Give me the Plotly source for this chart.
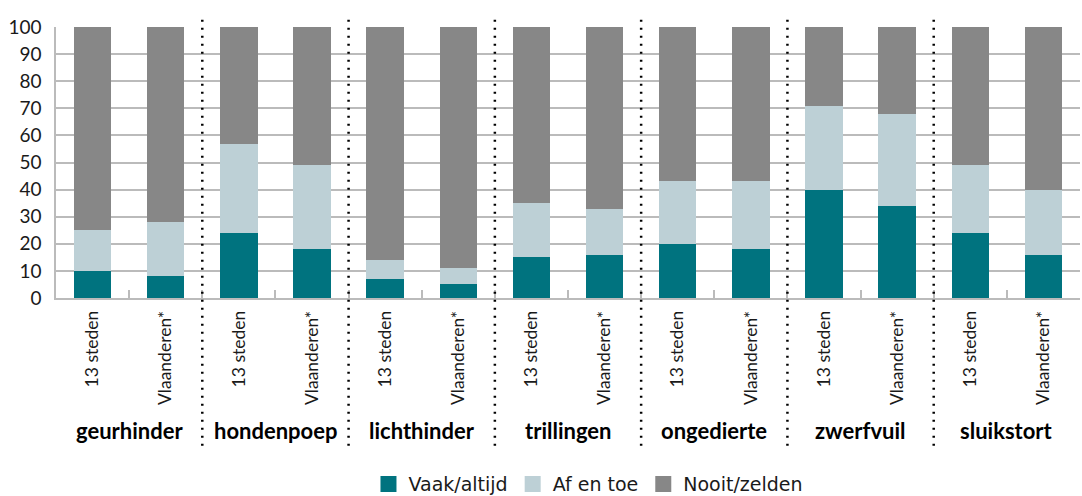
import plotly.graph_objects as go

groups = ["geurhinder", "hondenpoep", "lichthinder", "trillingen", "ongedierte", "zwerfvuil", "sluikstort"]
sub_labels = ["13 steden", "Vlaanderen*"]
vaak = [10, 8, 24, 18, 7, 5, 15, 16, 20, 18, 40, 34, 24, 16]
af_en_toe = [15, 20, 33, 31, 7, 6, 20, 17, 23, 25, 31, 34, 25, 24]
nooit = [75, 72, 43, 51, 86, 89, 65, 67, 57, 57, 29, 32, 51, 60]
series_names = ["Vaak/altijd", "Af en toe", "Nooit/zelden"]
colors = ["#00737F", "#BDD0D6", "#878787"]
y_ticks = list(range(0, 101, 10))

n = len(vaak)
xs = list(range(n))
ticktext = [sub_labels[i % 2] for i in xs]

fig = go.Figure()
for name, vals, col in zip(series_names, [vaak, af_en_toe, nooit], colors):
    fig.add_trace(go.Bar(x=xs, y=vals, name=name, marker=dict(color=col, line=dict(width=0)),
                         width=0.51, hoverinfo="skip", showlegend=False))
# legend proxies with larger square symbols
for name, col in zip(series_names, colors):
    fig.add_trace(go.Scatter(x=[None], y=[None], mode="markers", name=name,
                             marker=dict(symbol="square", size=18, color=col), hoverinfo="skip"))

# invisible trace on overlay axis for minor ticks
fig.add_trace(go.Scatter(x=[0], y=[0], xaxis="x2", mode="markers",
                         marker=dict(opacity=0), showlegend=False, hoverinfo="skip"))

base_font = "Lato, 'Open Sans', sans-serif"

fig.update_layout(
    width=1082, height=496,
    margin=dict(l=56, r=2, t=27, b=198, autoexpand=False),
    paper_bgcolor="white", plot_bgcolor="white",
    barmode="stack", bargap=0,
    showlegend=True,
    legend=dict(orientation="h", x=0.52, xanchor="center", y=-0.687, yanchor="middle",
                font=dict(family="'DejaVu Sans', Verdana, sans-serif", size=19, color="#1a1a1a"),
                traceorder="normal", itemsizing="trace"),
    xaxis=dict(range=[-0.5, n - 0.5], tickmode="array", tickvals=xs, ticktext=ticktext,
               tickangle=-90, ticks="", showgrid=False, zeroline=False, automargin=False,
               showline=True, linecolor="#BBBBBB", linewidth=1.5,
               tickfont=dict(family=base_font, size=17.5, color="#1a1a1a"),
               ticklabelstandoff=4),
    xaxis2=dict(range=[-0.5, n - 0.5], overlaying="x", anchor="y", side="bottom",
                tickmode="array", tickvals=[i + 0.5 for i in range(n - 1)], automargin=False,
                ticks="inside", ticklen=8, tickwidth=1.5, tickcolor="#BBBBBB",
                showticklabels=False, showgrid=False, zeroline=False, showline=False),
    yaxis=dict(range=[0, 100], tickmode="array", tickvals=y_ticks, automargin=False,
               showgrid=True, gridcolor="#BBBBBB", gridwidth=1.5, zeroline=False,
               showline=True, linecolor="#BBBBBB", linewidth=1.5,
               ticks="", tickfont=dict(family=base_font, size=19, color="#1a1a1a"),
               ticklabelstandoff=9),
)

# dotted group dividers
for g in range(1, len(groups)):
    xv = 2 * g - 0.5
    fig.add_shape(type="line", xref="x", yref="paper", x0=xv, x1=xv, y0=-0.545, y1=1.047,
                  line=dict(color="black", width=2.5, dash="2px,6px"), layer="above")

# group labels
for g, name in enumerate(groups):
    fig.add_annotation(x=2 * g + 0.5, y=-0.49, xref="x", yref="paper", text="<b>%s</b>" % name,
                       showarrow=False, yanchor="middle",
                       font=dict(family=base_font, size=22, color="black"))

fig.write_html("out.html", post_script="document.body.style.margin='0';",
               config={"displayModeBar": False})
